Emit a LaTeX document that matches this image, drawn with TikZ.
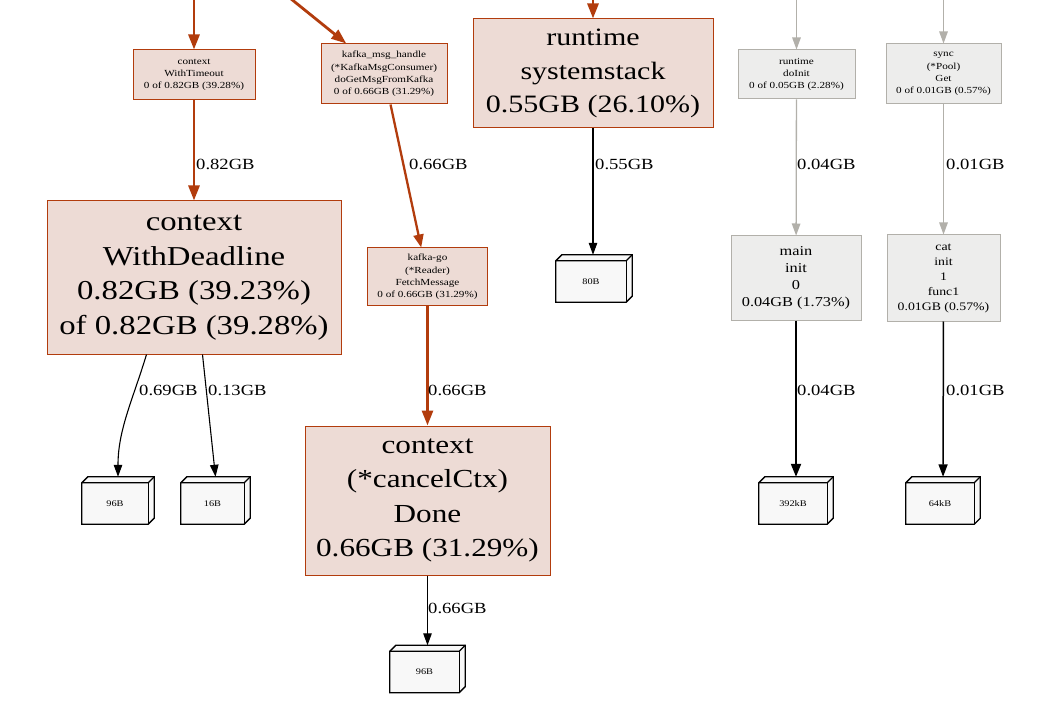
\documentclass[tikz,border=0pt]{standalone}
\usepackage{fontspec}
\setmainfont[FakeStretch=1.2]{Liberation Serif}
\usetikzlibrary{arrows.meta,calc}
\definecolor{hotfill}{HTML}{EDDBD5}
\definecolor{hotline}{HTML}{B23C0D}
\definecolor{coldfill}{HTML}{EDEDEC}
\definecolor{coldline}{HTML}{B2B0AA}
\definecolor{leaffill}{HTML}{F8F8F8}
\newcommand\fsz[2]{\fontsize{#1}{#2}\selectfont}
% leaf allocation box drawn as a 3d box: name, centre x, centre y, width, text
\newcommand\leafbox[5]{%
  \node[leafouter, minimum width=#4] (#1) at (#2,#3) {};
  \draw[leafface] ($(#1.north west)+(0,6)$) -- ($(#1.north west)+(6,0)$) -- (#1.north east)
     -- ($(#1.south east)+(0,-6)$) -- ($(#1.south east)+(-6,0)$) -- (#1.south west) -- cycle;
  \draw[leafedge] ($(#1.north west)+(0,6)$) -- ($(#1.north east)+(-6,6)$) -- (#1.north east);
  \draw[leafedge] ($(#1.north east)+(-6,6)$) -- ($(#1.south east)+(-6,0)$);
  \node[leaftext] (#1-t) at ($(#1.center)+(-3,3)$) {#5};
}
\begin{document}
\begin{tikzpicture}[x=1pt,y=-1pt,
  fn/.style={rectangle, line width=1pt, inner sep=0pt, align=center},
  hot/.style={fn, fill=hotfill, draw=hotline},
  cold/.style={fn, fill=coldfill, draw=coldline},
  leafouter/.style={rectangle, draw=none, inner sep=0pt, minimum height=47},
  leafface/.style={fill=leaffill, draw=black, line width=1.3pt, line join=miter},
  leafedge/.style={draw=black, line width=1.3pt},
  leaftext/.style={inner sep=0pt, font=\fsz{8.6}{10}},
  small/.style={font=\fsz{9.3}{12.3}},
  lbl/.style={anchor=west, inner sep=0pt, font=\fsz{15.5}{17}},
  hotedge/.style={draw=hotline, line width=2.8pt, -{Triangle[length=15pt,width=11pt]}},
  hotedgeB/.style={draw=hotline, line width=2.3pt, -{Triangle[length=13pt,width=10pt]}},
  coldedge/.style={draw=coldline, line width=1.3pt, -{Triangle[length=12pt,width=8.5pt]}},
  blkedge/.style={draw=black, line width=1.1pt, -{Triangle[length=12pt,width=8.5pt]}},
  blkedgeB/.style={draw=black, line width=2pt, -{Triangle[length=13pt,width=10pt]}},
  blkedgeC/.style={draw=black, line width=1.5pt, -{Triangle[length=12.5pt,width=9pt]}},
]
\clip (0,0) rectangle (1051,708);
\fill[white] (0,0) rectangle (1051,708);

% function nodes
\node[hot, small, minimum width=122, minimum height=50] (ctxTimeout) at (194,75)
  {context\\WithTimeout\\0 of 0.82GB (39.28\%)};
\node[hot, small, minimum width=126, minimum height=60] (kafkaHandle) at (384,74)
  {kafka\_msg\_handle\\(*KafkaMsgConsumer)\\doGetMsgFromKafka\\0 of 0.66GB (31.29\%)};
\node[hot, font=\fsz{25}{33.3}, minimum width=240, minimum height=109] (systemstack) at (593,73.5)
  {runtime\\systemstack\\0.55GB (26.10\%)};
\node[cold, small, minimum width=117, minimum height=49] (doInit) at (796.5,74.5)
  {runtime\\doInit\\0 of 0.05GB (2.28\%)};
\node[cold, small, minimum width=115, minimum height=60] (pool) at (943.5,74)
  {sync\\(*Pool)\\Get\\0 of 0.01GB (0.57\%)};
\node[hot, font=\fsz{27.3}{34.5}, minimum width=294, minimum height=153] (withDeadline) at (194,277.5)
  {context\\WithDeadline\\0.82GB (39.23\%)\\of 0.82GB (39.28\%)};
\node[hot, small, minimum width=120, minimum height=58] (kafkaGo) at (427.5,277)
  {kafka-go\\(*Reader)\\FetchMessage\\0 of 0.66GB (31.29\%)};
\node[cold, font=\fsz{13.6}{17}, minimum width=130, minimum height=84] (mainInit) at (796,278)
  {main\\init\\0\\0.04GB (1.73\%)};
\node[cold, font=\fsz{11.5}{15}, minimum width=113, minimum height=86] (catInit) at (943.5,278)
  {cat\\init\\1\\func1\\0.01GB (0.57\%)};
\node[hot, font=\fsz{26}{34.5}, minimum width=245, minimum height=149] (cancelCtx) at (427.5,500.5)
  {context\\(*cancelCtx)\\Done\\0.66GB (31.29\%)};

% leaf allocation boxes
\leafbox{leafA}{118}{500.5}{72}{96B}
\leafbox{leafB}{215.5}{500.5}{69}{16B}
\leafbox{leafC}{594}{278.5}{76}{80B}
\leafbox{leafD}{796}{500.5}{74}{392kB}
\leafbox{leafE}{943}{500.5}{74}{64kB}
\leafbox{leafF}{427.5}{669}{75}{96B}

% callers above the visible area
\coordinate (inA) at (194,-5);
\coordinate (inB) at (280,-10);
\coordinate (inC) at (593,-5);
\coordinate (inD) at (796.5,-5);
\coordinate (inE) at (943.5,-5);
\draw[hotedge] (inA) -- (ctxTimeout);
\draw[hotedge] (inB) -- (kafkaHandle);
\draw[hotedge] (inC) -- (systemstack);
\draw[coldedge] (inD) -- (doInit);
\draw[coldedge] (inE) -- (pool);

% call edges
\draw[hotedge] (ctxTimeout) -- (withDeadline);
\draw[hotedgeB] (kafkaHandle) -- (kafkaGo);
\draw[blkedge] (systemstack.south) -- (systemstack.south |- leafC.north);
\draw[coldedge] (doInit) -- (mainInit);
\draw[coldedge] (pool) -- (catInit);
\draw[blkedge] ($(withDeadline.south west)+(100,0)$) .. controls ($(withDeadline.south west)+(86,46)$) and ($(leafA.north)+(0,-47)$) .. (leafA.north);
\draw[blkedge] ($(withDeadline.south west)+(156,0)$) -- (leafB.north);
\draw[hotedge] (kafkaGo) -- (cancelCtx);
\draw[blkedgeB] (mainInit) -- (leafD);
\draw[blkedgeC] (catInit) -- (leafE);
\draw[blkedge] (cancelCtx) -- (leafF);

% edge weights
\node[lbl] (w1) at (196,164) {0.82GB};
\node[lbl] (w2) at (409,164) {0.66GB};
\node[lbl] (w3) at (595,164) {0.55GB};
\node[lbl] (w4) at (797,164) {0.04GB};
\node[lbl] (w5) at (946,164) {0.01GB};
\node[lbl] (w6) at (139,390) {0.69GB};
\node[lbl] (w7) at (208,390) {0.13GB};
\node[lbl] (w8) at (428,390) {0.66GB};
\node[lbl] (w9) at (797,390) {0.04GB};
\node[lbl] (w10) at (946,390) {0.01GB};
\node[lbl] (w11) at (428,608) {0.66GB};
\end{tikzpicture}
\end{document}
